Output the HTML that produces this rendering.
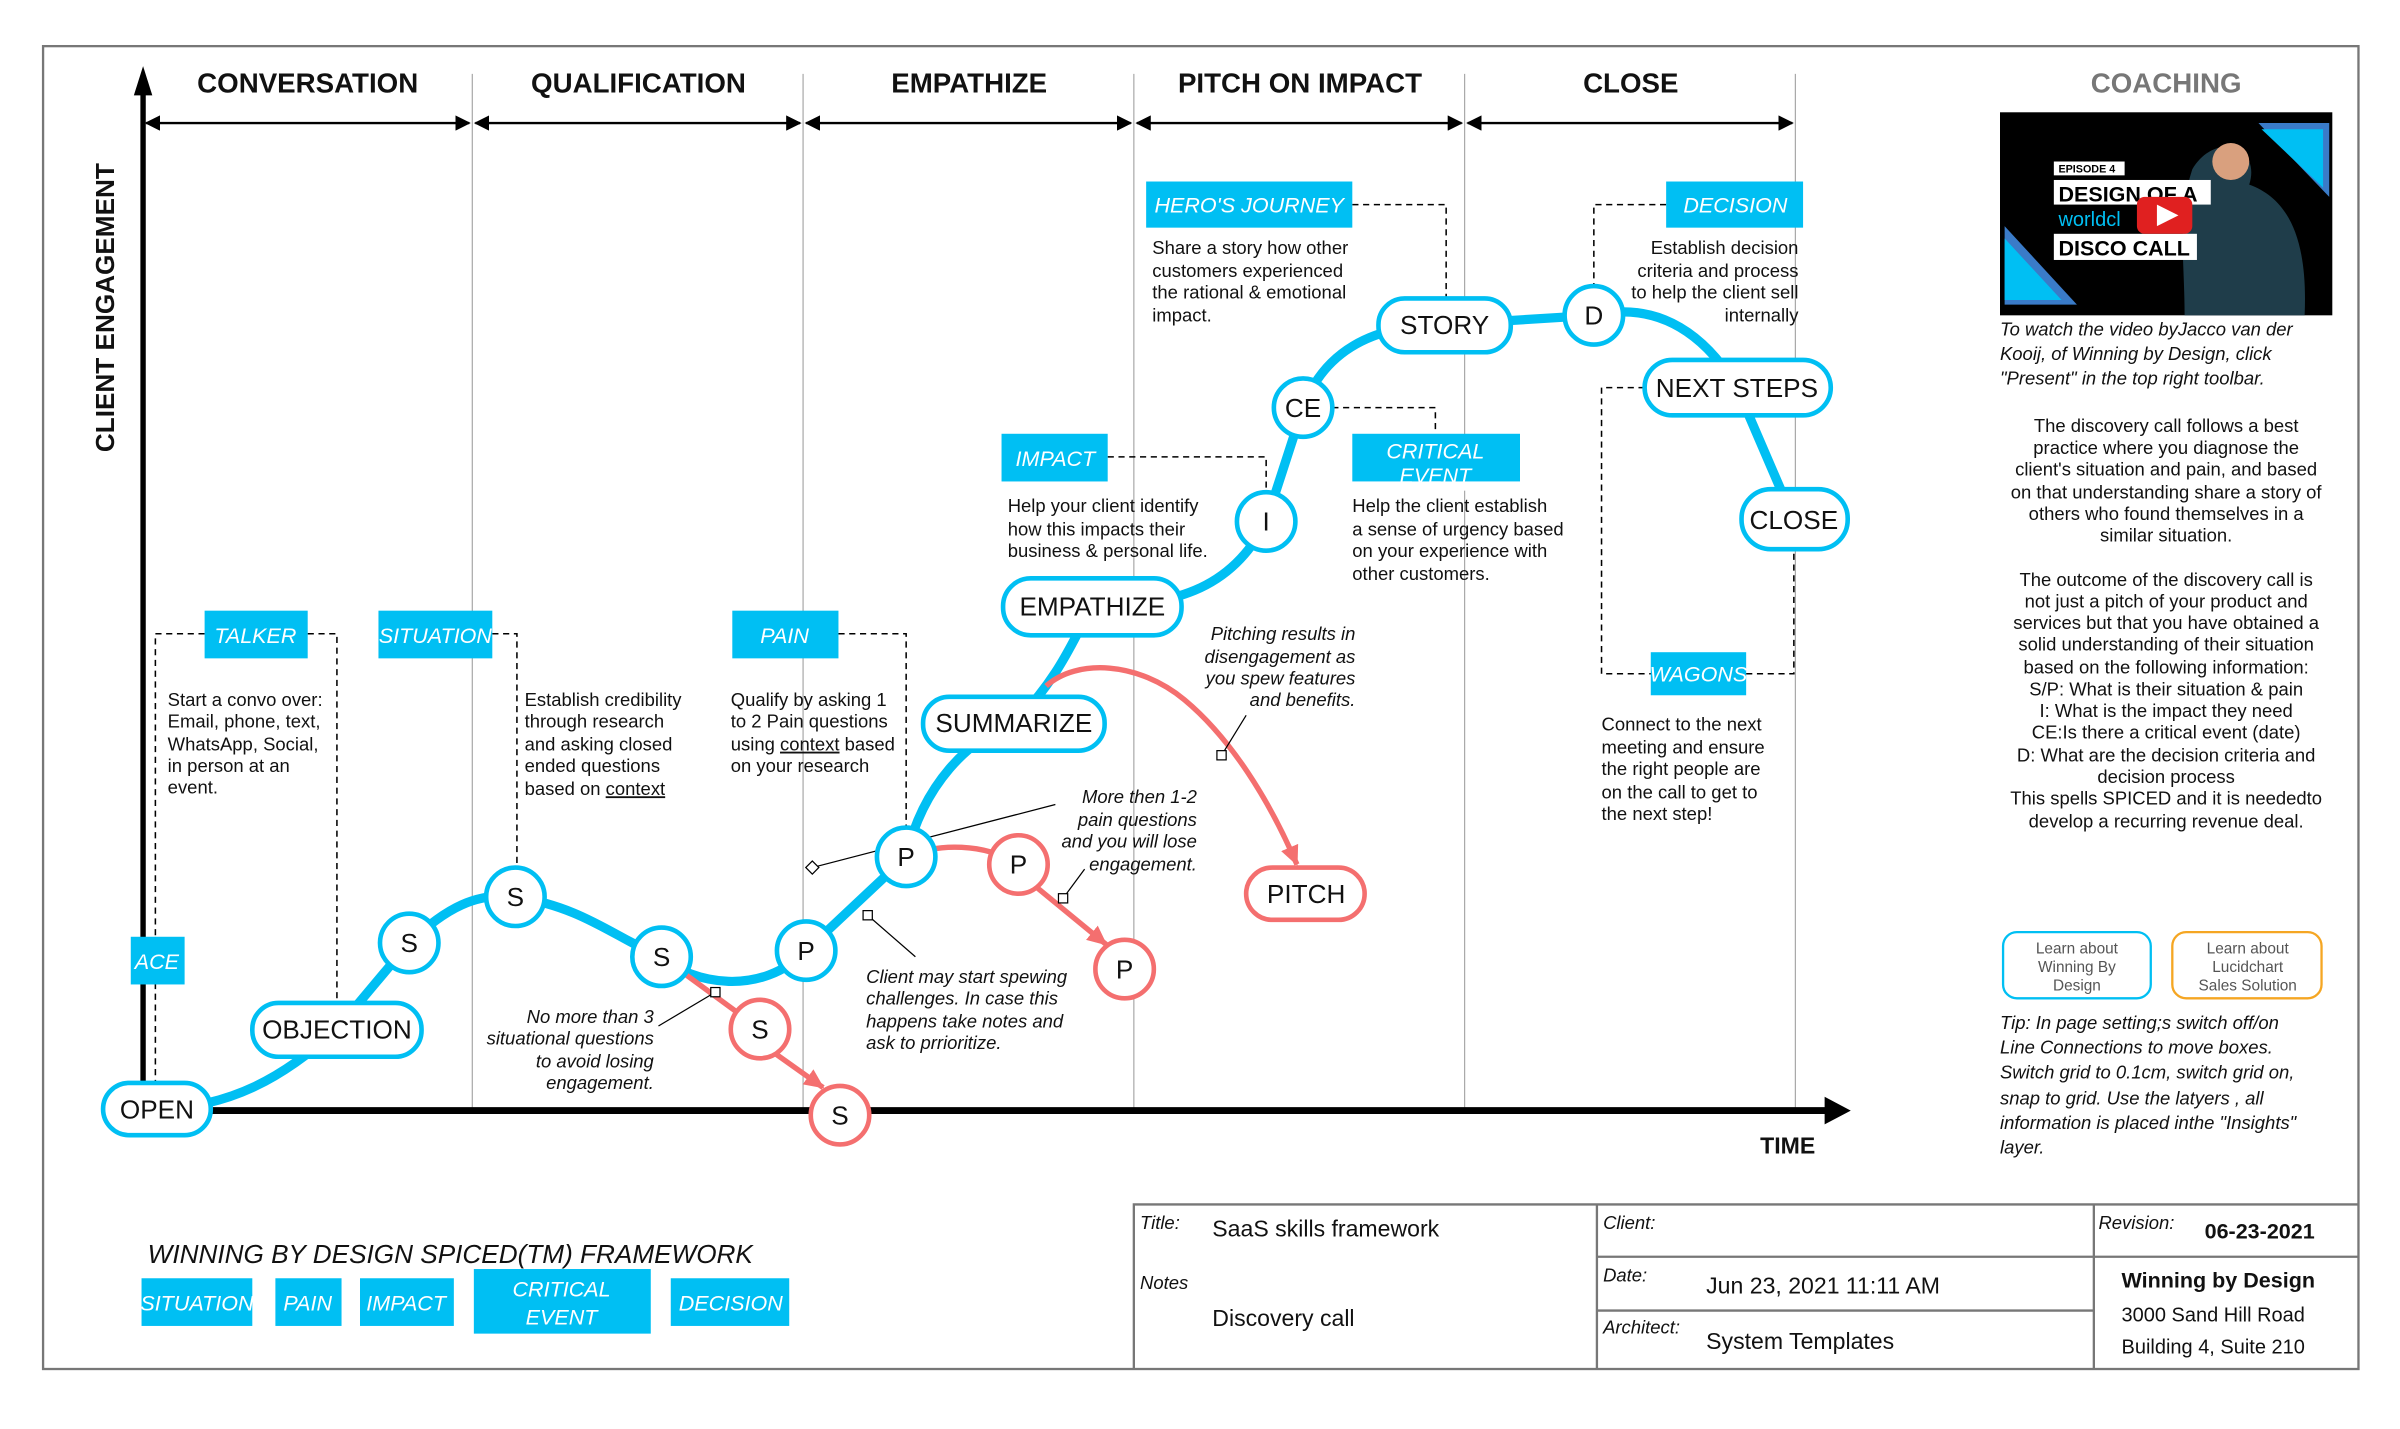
<!DOCTYPE html>
<html><head><meta charset="utf-8"><style>
html,body{margin:0;padding:0;background:#fff}
svg{display:block}
text{font-family:"Liberation Sans Narrow","Liberation Sans",sans-serif;fill:#111}
.b{font-size:12px}
.i{font-style:italic}
.h{font-size:18px;font-weight:bold}
.lab{fill:#fff;font-style:italic;font-size:14px}
.nt{font-size:17px}
</style></head><body>
<svg width="2400" height="1429" viewBox="0 0 1560 929" preserveAspectRatio="none" xmlns="http://www.w3.org/2000/svg">
<defs>
<marker id="ar" markerWidth="10" markerHeight="10" refX="9" refY="5" orient="auto" markerUnits="userSpaceOnUse"><path d="M0,0 L10,5 L0,10 z" fill="#000"/></marker>
<marker id="al" markerWidth="10" markerHeight="10" refX="1" refY="5" orient="auto" markerUnits="userSpaceOnUse"><path d="M10,0 L0,5 L10,10 z" fill="#000"/></marker>
<marker id="rr" markerWidth="14" markerHeight="14" refX="12" refY="7" orient="auto" markerUnits="userSpaceOnUse"><path d="M0,1 L13,7 L0,13 z" fill="#f46f6f"/></marker>
</defs>
<rect x="28" y="30" width="1505" height="860" fill="none" stroke="#777" stroke-width="1.5"/>
<g stroke="#aaa" stroke-width="0.8">
<line x1="307" y1="48" x2="307" y2="722"/><line x1="522" y1="48" x2="522" y2="722"/>
<line x1="737" y1="48" x2="737" y2="722"/><line x1="952" y1="48" x2="952" y2="722"/>
<line x1="1167" y1="48" x2="1167" y2="722"/>
</g>
<line x1="93" y1="60" x2="93" y2="722" stroke="#000" stroke-width="3.5"/>
<path d="M93,43 L99,62 L87,62 z" fill="#000"/>
<line x1="93" y1="722" x2="1188" y2="722" stroke="#000" stroke-width="4.5"/>
<path d="M1203,722 L1186,713 L1186,731 z" fill="#000"/>
<g stroke="#000" stroke-width="1.6">
<line x1="95" y1="80" x2="305" y2="80" marker-start="url(#al)" marker-end="url(#ar)"/>
<line x1="309" y1="80" x2="520" y2="80" marker-start="url(#al)" marker-end="url(#ar)"/>
<line x1="524" y1="80" x2="735" y2="80" marker-start="url(#al)" marker-end="url(#ar)"/>
<line x1="739" y1="80" x2="950" y2="80" marker-start="url(#al)" marker-end="url(#ar)"/>
<line x1="954" y1="80" x2="1165" y2="80" marker-start="url(#al)" marker-end="url(#ar)"/>
</g>
<g text-anchor="middle">
<text x="200" y="60" class="h">CONVERSATION</text>
<text x="415" y="60" class="h">QUALIFICATION</text>
<text x="630" y="60" class="h">EMPATHIZE</text>
<text x="845" y="60" class="h">PITCH ON IMPACT</text>
<text x="1060" y="60" class="h">CLOSE</text>
<text x="1408" y="60" class="h" style="fill:#777">COACHING</text>
</g>
<text transform="translate(74,200) rotate(-90)" text-anchor="middle" style="font-family:'Liberation Sans',sans-serif;font-weight:bold;font-size:17px">CLIENT ENGAGEMENT</text>
<text x="1162" y="750" text-anchor="middle" style="font-weight:bold;font-size:15px">TIME</text>

<g fill="none" stroke="#000" stroke-width="1" stroke-dasharray="4,3">
<path d="M133,412 H101 V704"/>
<path d="M200,412 H219 V652"/>
<path d="M320,412 H336 V565"/>
<path d="M545,412 H589 V538"/>
<path d="M720,297 H823 V320"/>
<path d="M879,133 H940 V194"/>
<path d="M866,265 H933 V282"/>
<path d="M1083,133 H1036 V186"/>
<path d="M1069,252 H1041 V438 H1073"/>
<path d="M1135,438 H1166 V357"/>
</g>

<path d="M102,721 C150,720 185,700 219,669 L266,613 C290,590 310,580 335,583 C380,590 400,610 430,622 C450,640 495,648 524,618 L589,557 C600,510 630,480 659,470 C690,440 700,410 710,394 C760,394 800,385 823,339 L847,265 C860,230 890,211 939,211 L1036,205 C1080,195 1110,220 1129,252 L1166,338" fill="none" stroke="#00bff3" stroke-width="6"/>
<g fill="none" stroke="#f46f6f" stroke-width="3.5">
<path d="M430,622 L494,669"/>
<line x1="504" y1="685" x2="535" y2="707" marker-end="url(#rr)"/>
<path d="M589,557 C610,548 640,548 662,562"/>
<line x1="674" y1="577" x2="719" y2="614" marker-end="url(#rr)"/>
<path d="M680,446 C700,428 740,430 770,455 C800,480 825,520 843,562" marker-end="url(#rr)"/>
</g>
<g stroke="#000" stroke-width="0.8" fill="#fff">
<line x1="465" y1="645" x2="428" y2="667"/>
<line x1="564" y1="595" x2="595" y2="622"/>
<line x1="528" y1="564" x2="686" y2="523"/>
<line x1="691" y1="584" x2="705" y2="565"/>
<line x1="794" y1="491" x2="810" y2="465"/>
<rect x="462" y="642" width="6" height="6"/>
<rect x="561" y="592" width="6" height="6"/>
<rect x="688" y="581" width="6" height="6"/>
<rect x="791" y="488" width="6" height="6"/>
<rect x="525" y="561" width="6" height="6" transform="rotate(45 528 564)"/>
</g>

<g fill="#fff" stroke="#00bff3" stroke-width="3">
<rect x="67" y="704" width="70" height="34" rx="17"/>
<rect x="164" y="652" width="110" height="35" rx="17"/>
<circle cx="266" cy="613" r="19"/><circle cx="335" cy="583" r="19"/>
<circle cx="430" cy="622" r="19"/><circle cx="524" cy="618" r="19"/>
<circle cx="589" cy="557" r="19"/>
<rect x="600" y="453" width="118" height="35" rx="17"/>
<rect x="652" y="376" width="116" height="37" rx="18"/>
<circle cx="823" cy="339" r="19"/><circle cx="847" cy="265" r="19"/>
<rect x="896" y="194" width="86" height="35" rx="17"/>
<circle cx="1036" cy="205" r="19"/>
<rect x="1069" y="234" width="121" height="36" rx="18"/>
<rect x="1132" y="318" width="69" height="39" rx="19"/>
</g>
<g fill="#fff" stroke="#f46f6f" stroke-width="3">
<circle cx="494" cy="669" r="19"/><circle cx="546" cy="725" r="19"/>
<circle cx="662" cy="562" r="19"/><circle cx="731" cy="630" r="19"/>
<rect x="810" y="564" width="77" height="34" rx="17"/>
</g>
<g text-anchor="middle">
<text x="102" y="727" class="nt">OPEN</text><text x="219" y="675" class="nt">OBJECTION</text>
<text x="266" y="619" class="nt">S</text><text x="335" y="589" class="nt">S</text>
<text x="430" y="628" class="nt">S</text><text x="524" y="624" class="nt">P</text>
<text x="589" y="563" class="nt">P</text><text x="659" y="476" class="nt">SUMMARIZE</text>
<text x="710" y="400" class="nt">EMPATHIZE</text><text x="823" y="345" class="nt">I</text>
<text x="847" y="271" class="nt">CE</text><text x="939" y="217" class="nt">STORY</text>
<text x="1036" y="211" class="nt">D</text><text x="1129" y="258" class="nt">NEXT STEPS</text>
<text x="1166" y="344" class="nt">CLOSE</text>
<text x="494" y="675" class="nt">S</text><text x="546" y="731" class="nt">S</text>
<text x="662" y="568" class="nt">P</text><text x="731" y="636" class="nt">P</text>
<text x="849" y="587" class="nt">PITCH</text>
</g>

<g fill="#00bff3">
<rect x="133" y="397" width="67" height="31"/><rect x="246" y="397" width="74" height="31"/>
<rect x="476" y="397" width="69" height="31"/><rect x="651" y="282" width="69" height="31"/>
<rect x="745" y="118" width="134" height="30"/><rect x="879" y="282" width="109" height="31"/>
<rect x="1083" y="118" width="89" height="30"/><rect x="1073" y="424" width="62" height="28"/>
<rect x="85" y="609" width="35" height="31"/>
<rect x="92" y="831" width="72" height="31"/><rect x="179" y="831" width="43" height="31"/>
<rect x="234" y="831" width="61" height="31"/><rect x="308" y="825" width="115" height="42"/>
<rect x="436" y="831" width="77" height="31"/>
</g>
<g text-anchor="middle">
<text x="166" y="418" class="lab">TALKER</text><text x="283" y="418" class="lab">SITUATION</text>
<text x="510" y="418" class="lab">PAIN</text><text x="686" y="303" class="lab">IMPACT</text>
<text x="812" y="138" class="lab">HERO'S JOURNEY</text><text x="933" y="298" class="lab">CRITICAL</text>
<text x="933" y="314" class="lab">EVENT</text>
<text x="1128" y="138" class="lab">DECISION</text><text x="1104" y="443" class="lab">WAGONS</text>
<text x="102" y="630" class="lab">ACE</text>
<text x="128" y="852" class="lab">SITUATION</text><text x="200" y="852" class="lab">PAIN</text>
<text x="264" y="852" class="lab">IMPACT</text><text x="365" y="843" class="lab">CRITICAL</text>
<text x="365" y="861" class="lab">EVENT</text><text x="475" y="852" class="lab">DECISION</text>
</g>
<rect x="879" y="313" width="109" height="6" fill="#fff"/>

<g>
<text x="109" y="459" class="b">Start a convo over:</text><text x="109" y="473" class="b">Email, phone, text,</text>
<text x="109" y="488" class="b">WhatsApp, Social,</text><text x="109" y="502" class="b">in person at an</text>
<text x="109" y="516" class="b">event.</text>
<text x="341" y="459" class="b">Establish credibility</text><text x="341" y="473" class="b">through research</text>
<text x="341" y="488" class="b">and asking closed</text><text x="341" y="502" class="b">ended questions</text>
<text x="341" y="517" class="b">based on <tspan text-decoration="underline">context</tspan></text>
<text x="475" y="459" class="b">Qualify by asking 1</text><text x="475" y="473" class="b">to 2 Pain questions</text>
<text x="475" y="488" class="b">using <tspan text-decoration="underline">context</tspan> based</text><text x="475" y="502" class="b">on your research</text>
<text x="655" y="333" class="b">Help your client identify</text><text x="655" y="348" class="b">how this impacts their</text>
<text x="655" y="362" class="b">business &amp; personal life.</text>
<text x="749" y="165" class="b">Share a story how other</text><text x="749" y="180" class="b">customers experienced</text>
<text x="749" y="194" class="b">the rational &amp; emotional</text><text x="749" y="209" class="b">impact.</text>
<text x="879" y="333" class="b">Help the client establish</text><text x="879" y="348" class="b">a sense of urgency based</text>
<text x="879" y="362" class="b">on your experience with</text><text x="879" y="377" class="b">other customers.</text>
<g text-anchor="end">
<text x="1169" y="165" class="b">Establish decision</text><text x="1169" y="180" class="b">criteria and process</text>
<text x="1169" y="194" class="b">to help the client sell</text><text x="1169" y="209" class="b">internally</text>
</g>
<text x="1041" y="475" class="b">Connect to the next</text><text x="1041" y="490" class="b">meeting and ensure</text>
<text x="1041" y="504" class="b">the right people are</text><text x="1041" y="519" class="b">on the call to get to</text>
<text x="1041" y="533" class="b">the next step!</text>
<g text-anchor="end">
<text x="881" y="416" class="b i">Pitching results in</text><text x="881" y="431" class="b i">disengagement as</text>
<text x="881" y="445" class="b i">you spew features</text><text x="881" y="459" class="b i">and benefits.</text>
<text x="778" y="522" class="b i">More then 1-2</text><text x="778" y="537" class="b i">pain questions</text>
<text x="778" y="551" class="b i">and you will lose</text><text x="778" y="566" class="b i">engagement.</text>
<text x="425" y="665" class="b i">No more than 3</text><text x="425" y="679" class="b i">situational questions</text>
<text x="425" y="694" class="b i">to avoid losing</text><text x="425" y="708" class="b i">engagement.</text>
</g>
<text x="563" y="639" class="b i">Client may start spewing</text><text x="563" y="653" class="b i">challenges. In case this</text>
<text x="563" y="668" class="b i">happens take notes and</text><text x="563" y="682" class="b i">ask to prrioritize.</text>
</g>

<rect x="1300" y="73" width="216" height="132" fill="#000"/>
<path d="M1468,80 L1514,80 L1514,128 z" fill="#3a7bc8"/><path d="M1470,84 L1510,84 L1510,122 z" fill="#00bff3"/>
<path d="M1303,147 L1303,198 L1350,198 z" fill="#3a7bc8"/><path d="M1303,155 L1303,195 L1340,195 z" fill="#00bff3"/>
<path d="M1425,110 C1440,85 1470,95 1462,120 C1490,130 1500,160 1498,205 L1420,205 C1420,170 1415,140 1425,110 z" fill="#1f3d4a"/>
<circle cx="1450" cy="105" r="12" fill="#d9a07e"/>
<rect x="1335" y="105" width="46" height="9" fill="#fff"/>
<text x="1338" y="112" style="font-family:'Liberation Sans',sans-serif;font-weight:bold;font-size:7px;fill:#000">EPISODE 4</text>
<rect x="1335" y="117" width="102" height="16" fill="#fff"/>
<text x="1338" y="131" style="font-family:'Liberation Sans',sans-serif;font-weight:bold;font-size:14px;fill:#000">DESIGN OF A</text>
<text x="1338" y="147" style="font-family:'Liberation Sans',sans-serif;font-size:13px;fill:#00bff3">worldcl</text>
<rect x="1335" y="152" width="93" height="17" fill="#fff"/>
<text x="1338" y="166" style="font-family:'Liberation Sans',sans-serif;font-weight:bold;font-size:14px;fill:#000">DISCO CALL</text>
<rect x="1389" y="128" width="36" height="24" rx="5" fill="#e02020"/>
<path d="M1402,133 L1416,140 L1402,147 z" fill="#fff"/>
<text x="1300" y="218" class="b i">To watch the video byJacco van der</text>
<text x="1300" y="234" class="b i">Kooij, of Winning by Design, click</text>
<text x="1300" y="250" class="b i">"Present" in the top right toolbar.</text>
<g text-anchor="middle">
<text x="1408" y="281" class="b">The discovery call follows a best</text>
<text x="1408" y="295" class="b">practice where you diagnose the</text>
<text x="1408" y="309" class="b">client's situation and pain, and based</text>
<text x="1408" y="324" class="b">on that understanding share a story of</text>
<text x="1408" y="338" class="b">others who found themselves in a</text>
<text x="1408" y="352" class="b">similar situation.</text>
<text x="1408" y="381" class="b">The outcome of the discovery call is</text>
<text x="1408" y="395" class="b">not just a pitch of your product and</text>
<text x="1408" y="409" class="b">services but that you have obtained a</text>
<text x="1408" y="423" class="b">solid understanding of their situation</text>
<text x="1408" y="438" class="b">based on the following information:</text>
<text x="1408" y="452" class="b">S/P: What is their situation &amp; pain</text>
<text x="1408" y="466" class="b">I: What is the impact they need</text>
<text x="1408" y="480" class="b">CE:Is there a critical event (date)</text>
<text x="1408" y="495" class="b">D: What are the decision criteria and</text>
<text x="1408" y="509" class="b">decision process</text>
<text x="1408" y="523" class="b">This spells SPICED and it is neededto</text>
<text x="1408" y="538" class="b">develop a recurring revenue deal.</text>
</g>
<rect x="1302" y="606" width="96" height="43" rx="9" fill="#fff" stroke="#00bff3" stroke-width="1.5"/>
<rect x="1412" y="606" width="97" height="43" rx="9" fill="#fff" stroke="#f5a623" stroke-width="1.5"/>
<g text-anchor="middle">
<text x="1350" y="620" style="font-size:10px;fill:#555">Learn about</text><text x="1350" y="632" style="font-size:10px;fill:#555">Winning By</text><text x="1350" y="644" style="font-size:10px;fill:#555">Design</text>
<text x="1461" y="620" style="font-size:10px;fill:#555">Learn about</text><text x="1461" y="632" style="font-size:10px;fill:#555">Lucidchart</text><text x="1461" y="644" style="font-size:10px;fill:#555">Sales Solution</text>
</g>
<text x="1300" y="669" class="b i">Tip: In page setting;s switch off/on</text>
<text x="1300" y="685" class="b i">Line Connections to move boxes.</text>
<text x="1300" y="701" class="b i">Switch grid to 0.1cm, switch grid on,</text>
<text x="1300" y="718" class="b i">snap to grid.  Use the latyers , all</text>
<text x="1300" y="734" class="b i">information is placed inthe "Insights"</text>
<text x="1300" y="750" class="b i">layer.</text>

<text x="96" y="821" style="font-style:italic;font-size:17px">WINNING BY DESIGN SPICED(TM) FRAMEWORK</text>
<g fill="none" stroke="#777" stroke-width="1.5">
<path d="M737,890 V783 H1533"/>
<line x1="1038" y1="783" x2="1038" y2="890"/><line x1="1361" y1="783" x2="1361" y2="890"/>
<line x1="1038" y1="817" x2="1533" y2="817"/><line x1="1038" y1="852" x2="1361" y2="852"/>
</g>
<text x="741" y="799" class="b i">Title:</text>
<text x="788" y="804" style="font-size:15px">SaaS skills framework</text>
<text x="741" y="838" class="b i">Notes</text>
<text x="788" y="862" style="font-size:15px">Discovery call</text>
<text x="1042" y="799" class="b i">Client:</text>
<text x="1042" y="833" class="b i">Date:</text>
<text x="1109" y="841" style="font-size:15px">Jun 23, 2021 11:11 AM</text>
<text x="1042" y="867" class="b i">Architect:</text>
<text x="1109" y="877" style="font-size:15px">System Templates</text>
<text x="1364" y="799" class="b i">Revision:</text>
<text x="1433" y="805" style="font-size:14px;font-weight:bold">06-23-2021</text>
<text x="1379" y="837" style="font-size:14px;font-weight:bold">Winning by Design</text>
<text x="1379" y="859" style="font-size:13px">3000 Sand Hill Road</text>
<text x="1379" y="880" style="font-size:13px">Building 4, Suite 210</text>
</svg>
</body></html>
